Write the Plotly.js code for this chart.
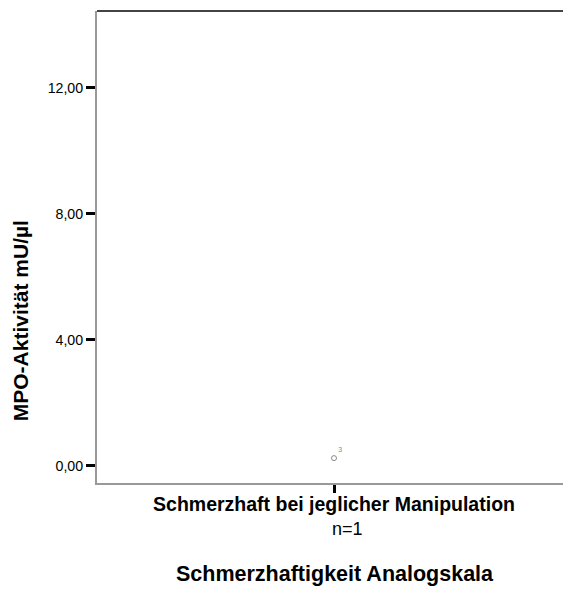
<!DOCTYPE html>
<html><head><meta charset="utf-8">
<script src="https://cdn.plot.ly/plotly-3.0.1.min.js"></script>
<style>html,body{margin:0;padding:0;background:#fff}</style>
</head><body>
<div id="chart" style="width:563px;height:589px"></div>
<script>
var categories = ["Schmerzhaft bei jeglicher Manipulation"];
var counts = ["n=1"];
var outlierValues = [0.25];
var outlierLabels = ["3"];
var yTicks = [0, 4, 8, 12];
var yTickText = ["0,00", "4,00", "8,00", "12,00"];

var catIdx = categories.map(function(c, i){ return i; });
var tickText = categories.map(function(c){ return "<b>" + c + "</b>"; });
var FONT = "'Liberation Sans', Arial, sans-serif";

var trace = {
  x: catIdx, y: outlierValues, text: outlierLabels,
  type: "scatter", mode: "markers+text",
  marker: {symbol: "circle-open", size: 5, color: "#888", line: {width: 1, color: "#888"}},
  textposition: "top right",
  textfont: {size: 7, color: "#888", family: FONT},
  hoverinfo: "none", showlegend: false, cliponaxis: false
};

var annotations = [
  {text: "<b>MPO-Aktivität mU/µl</b>", xref: "paper", yref: "paper", x: -0.165, y: 0.343,
   textangle: -90, showarrow: false, font: {size: 21, color: "#000", family: FONT}, xanchor: "center", yanchor: "middle"},
  {text: "<b>Schmerzhaftigkeit Analogskala</b>", xref: "paper", yref: "paper", x: 0.511, y: -0.193,
   showarrow: false, font: {size: 21.5, color: "#000", family: FONT}, xanchor: "center", yanchor: "middle"}
];
counts.forEach(function(n, i){
  annotations.push({text: n, x: catIdx[i], xref: "x", yref: "paper", y: -0.098, xshift: 13,
    showarrow: false, font: {size: 18, color: "#000", family: FONT}, xanchor: "center", yanchor: "middle"});
});

var layout = {
  width: 563, height: 589,
  margin: {l: 97, r: 0, t: 11, b: 106},
  paper_bgcolor: "#fff", plot_bgcolor: "#fff",
  font: {family: FONT, color: "#000"},
  xaxis: {
    range: [-0.5086, 0.4914], tickvals: catIdx, ticktext: tickText,
    showgrid: false, zeroline: false, showline: true, linecolor: "#999", linewidth: 2,
    ticks: "outside", ticklen: 8, tickwidth: 3, tickcolor: "#000", ticklabelstandoff: -5,
    tickfont: {size: 19.5, color: "#000", family: FONT}, fixedrange: true
  },
  yaxis: {
    range: [-0.54, 14.44], tickvals: yTicks, ticktext: yTickText,
    showgrid: false, zeroline: false, showline: true, linecolor: "#999", linewidth: 2,
    ticks: "outside", ticklen: 9, tickwidth: 3, tickcolor: "#000",
    tickfont: {size: 14.2, color: "#000", family: FONT}, fixedrange: true
  },
  shapes: [{type: "line", xref: "paper", yref: "paper", x0: 0, x1: 1, y0: 1, y1: 1,
            line: {color: "#444", width: 2}}],
  annotations: annotations
};

Plotly.newPlot("chart", [trace], layout, {displayModeBar: false, staticPlot: true});
</script>
</body></html>
